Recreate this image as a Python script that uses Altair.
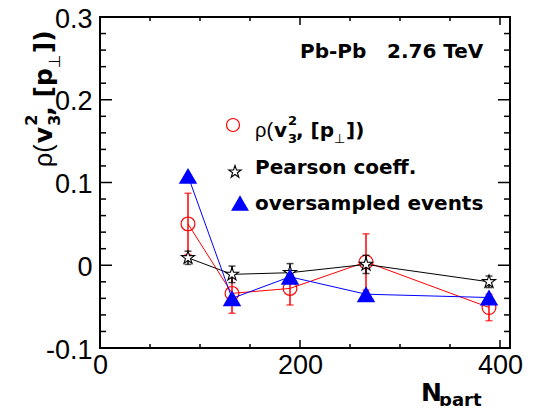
import altair as alt
import pandas as pd

# ---------------- data ----------------
npart = [88, 132, 190, 266, 389]
rho_vals = [0.050, -0.034, -0.028, 0.004, -0.051]
rho_errs = [0.037, 0.024, 0.020, 0.034, 0.016]
pearson_vals = [0.009, -0.011, -0.009, 0.001, -0.020]
pearson_errs = [0.008, 0.010, 0.011, 0.011, 0.007]
overs_vals = [0.108, -0.040, -0.014, -0.035, -0.039]

x_major = [0, 200, 400]
x_minor = [50, 100, 150, 250, 300, 350]
y_major = [-0.1, 0.0, 0.1, 0.2, 0.3]
y_minor = [-0.08, -0.06, -0.04, -0.02, 0.02, 0.04, 0.06, 0.08,
           0.12, 0.14, 0.16, 0.18, 0.22, 0.24, 0.26, 0.28]

header_left = "Pb-Pb"
header_right = "2.76 TeV"
legend_pearson = "Pearson coeff."
legend_overs = "oversampled events"
rho_parts = ["ρ(", "v", "2", "3", ", [p", "⊥", "])"]
xtitle_main = "N"
xtitle_sub = "part"

# ---------------- layout ----------------
W, H = 410, 331
OX, OY = 100, 17  # plot origin in page pixels
RED, BLUE, BLACK = "#ff0000", "#0000ff", "#000000"
STAR = ("M0,-1L0.2245,-0.309L0.951,-0.309L0.363,0.118L0.588,0.809L0,0.382"
        "L-0.588,0.809L-0.363,0.118L-0.951,-0.309L-0.2245,-0.309Z")

xs = alt.Scale(domain=[0, 410], nice=False, zero=False)
ys = alt.Scale(domain=[-0.1, 0.3], nice=False, zero=False)

x_axis = alt.Axis(values=x_major, title=None, labelPadding=4, orient="bottom")
y_axis = alt.Axis(
    values=y_major, title=None, labelPadding=8, orient="left", labelOffset=2,
    labelExpr="datum.value == 0 ? '0' : (datum.value < 0 ? '-' + format(-datum.value, '.1f') : format(datum.value, '.1f'))",
)


def X(field):
    return alt.X(field, type="quantitative", scale=xs, axis=x_axis)


def Y(field):
    return alt.Y(field, type="quantitative", scale=ys, axis=y_axis)


def series_df(vals, errs=None):
    d = {"N": npart, "v": vals}
    if errs is not None:
        d["lo"] = [v - e for v, e in zip(vals, errs)]
        d["hi"] = [v + e for v, e in zip(vals, errs)]
    return pd.DataFrame(d)


red_df = series_df(rho_vals, rho_errs)
blk_df = series_df(pearson_vals, pearson_errs)
blu_df = series_df(overs_vals)

layers = []


def err_layers(df, color):
    base = alt.Chart(df)
    return [
        base.mark_rule(color=color, strokeWidth=1.5).encode(x=X("N"), y=Y("lo"), y2="hi"),
        base.mark_tick(color=color, orient="horizontal", size=7, thickness=1.5).encode(x=X("N"), y=Y("lo")),
        base.mark_tick(color=color, orient="horizontal", size=7, thickness=1.5).encode(x=X("N"), y=Y("hi")),
    ]


# red series
layers.append(alt.Chart(red_df).mark_line(color=RED, strokeWidth=1).encode(x=X("N"), y=Y("v")))
layers += err_layers(red_df, RED)
layers.append(alt.Chart(red_df).mark_point(shape="circle", filled=False, color=RED, size=190,
                                           strokeWidth=1.2, opacity=1).encode(x=X("N"), y=Y("v")))
# black series
layers.append(alt.Chart(blk_df).mark_line(color=BLACK, strokeWidth=1).encode(x=X("N"), y=Y("v")))
layers += err_layers(blk_df, BLACK)
layers.append(alt.Chart(blk_df).mark_point(shape=STAR, filled=True, fill="white", stroke=BLACK,
                                           size=190, strokeWidth=1.1, opacity=1).encode(x=X("N"), y=Y("v")))
# blue series
layers.append(alt.Chart(blu_df).mark_line(color=BLUE, strokeWidth=1).encode(x=X("N"), y=Y("v")))
layers.append(alt.Chart(blu_df).mark_point(shape="triangle-up", filled=True, color=BLUE, size=340,
                                           opacity=1).encode(x=X("N"), y=Y("v")))

# ---------------- inner ticks (ROOT style) ----------------
ymaj_df = pd.DataFrame({"v": y_major})
ymin_df = pd.DataFrame({"v": y_minor})
xmaj_df = pd.DataFrame({"N": x_major})
xmin_df = pd.DataFrame({"N": x_minor})
for df, ln in [(ymaj_df, 12), (ymin_df, 6)]:
    layers.append(alt.Chart(df).mark_rule(color=BLACK, strokeWidth=1.5).encode(
        y=Y("v"), x=alt.value(0), x2=alt.value(ln)))
    layers.append(alt.Chart(df).mark_rule(color=BLACK, strokeWidth=1.5).encode(
        y=Y("v"), x=alt.value(W), x2=alt.value(W - ln)))
for df, ln in [(xmaj_df, 8), (xmin_df, 4)]:
    layers.append(alt.Chart(df).mark_rule(color=BLACK, strokeWidth=1.5).encode(
        x=X("N"), y=alt.value(H), y2=alt.value(H - ln)))
    layers.append(alt.Chart(df).mark_rule(color=BLACK, strokeWidth=1.5).encode(
        x=X("N"), y=alt.value(0), y2=alt.value(ln)))


# ---------------- texts ----------------
def txt(s, px, py, size, bold=True, angle=0, font="DejaVu Sans"):
    kw = dict(align="left", baseline="alphabetic", fontSize=size, font=font,
              fontWeight="bold" if bold else "normal", color=BLACK)
    if angle:
        kw["angle"] = angle
    return alt.Chart(pd.DataFrame({"t": [s]})).mark_text(**kw).encode(
        text="t:N", x=alt.value(px - OX), y=alt.value(py - OY))


layers.append(txt(header_left, 300, 58, 20))
layers.append(txt(header_right, 387, 58, 20))

# legend rows (label pieces: dx, dy, size, bold, font)
piece_geom = [(0, 0, 20, False, "Liberation Sans"), (19, 0, 20, True, "DejaVu Sans"),
              (33, -12, 13, True, "DejaVu Sans"), (33, 6, 13, True, "DejaVu Sans"),
              (41, 0, 20, True, "DejaVu Sans"), (79, 6, 13, False, "DejaVu Sans"),
              (91, 0, 20, True, "DejaVu Sans")]
for s, (dx, dy, sz, b, f) in zip(rho_parts, piece_geom):
    layers.append(txt(s, 255 + dx, 137 + dy, sz, b, font=f))
layers.append(txt(legend_pearson, 255, 174, 20))
layers.append(txt(legend_overs, 255, 210, 20))

mk = pd.DataFrame({"k": [0]})
layers.append(alt.Chart(mk).mark_point(shape="circle", filled=False, color=RED, size=170, strokeWidth=1.2,
                                       opacity=1).encode(x=alt.value(233 - OX), y=alt.value(125 - OY)))
layers.append(alt.Chart(mk).mark_point(shape=STAR, filled=True, fill="white", stroke=BLACK, size=170,
                                       strokeWidth=1.1, opacity=1).encode(x=alt.value(235 - OX), y=alt.value(172 - OY)))
layers.append(alt.Chart(mk).mark_point(shape="triangle-up", filled=True, color=BLUE, size=320,
                                       opacity=1).encode(x=alt.value(240 - OX), y=alt.value(203 - OY)))

# y-axis title (rotated pieces)
k = 1.25
for s, (dx, dy, sz, b, f) in zip(rho_parts, piece_geom):
    layers.append(txt(s, 52 + dy * k, 167 - dx * k, round(sz * k), b, angle=270, font=f))

# x-axis title
layers.append(txt(xtitle_main, 421, 401, 25))
layers.append(txt(xtitle_sub, 439, 406, 18))

chart = alt.layer(*layers).properties(
    width=W, height=H,
    autosize=alt.AutoSizeParams(type="none"),
    padding={"left": OX - 8, "top": OY - 8, "right": 16, "bottom": 58},
    background="white",
).configure_view(
    stroke=BLACK, strokeWidth=2
).configure_axis(
    grid=False, ticks=False, domain=False, labelFont="Liberation Sans", labelFontSize=27,
    labelColor=BLACK, labelFlush=False, labelOverlap=False
)

chart.save("out.html", embed_options={"renderer": "svg", "actions": False})
